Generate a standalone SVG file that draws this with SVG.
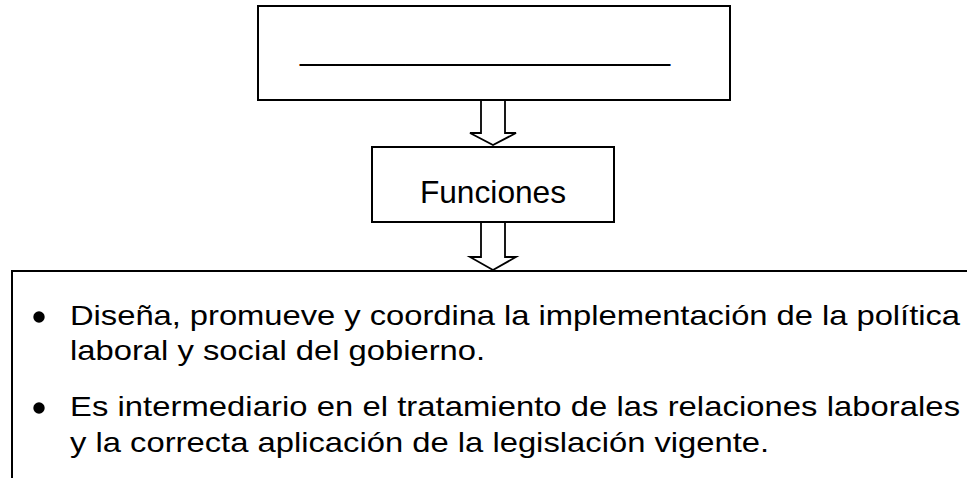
<svg xmlns="http://www.w3.org/2000/svg" width="967" height="478" viewBox="0 0 967 478">
<style>
.box{fill:#fff;stroke:#000;stroke-width:2}
.arr{fill:#fff;stroke:#000;stroke-width:1.8;stroke-linejoin:miter}
.t{font-family:"Liberation Sans",Arial,sans-serif;fill:#000}
.big{font-size:31.7px}
.b{font-size:28px}
</style>
<rect width="967" height="478" fill="#fff"/>
<g id="node-top">
<rect class="box" x="258" y="6" width="472" height="94"/>
<text class="t big" x="485" y="60" text-anchor="middle">_____________________</text>
</g>
<g id="node-funciones">
<rect class="box" x="372" y="147" width="242" height="75"/>
<text class="t big" x="493" y="203" text-anchor="middle">Funciones</text>
</g>
<g id="node-list">
<path class="box" d="M975,271 H12 V485" fill="none"/>
<circle cx="39" cy="317" r="5.7" fill="#000"/>
<circle cx="39" cy="408" r="5.7" fill="#000"/>
<g transform="translate(70,0) scale(1.17,1)">
<text class="t b" x="0" y="325" textLength="760.7" lengthAdjust="spacing">Diseña, promueve y coordina la implementación de la política</text>
<text class="t b" x="0" y="360">laboral y social del gobierno.</text>
<text class="t b" x="0" y="416" textLength="760.7" lengthAdjust="spacing">Es intermediario en el tratamiento de las relaciones laborales</text>
<text class="t b" x="0" y="452">y la correcta aplicación de la legislación vigente.</text>
</g>
</g>
<g id="connectors">
<polygon class="arr" points="481,100 505,100 505,133 516,133 493,145 470,133 481,133"/>
<polygon class="arr" points="481,222 505,222 505,257 516,257 493,270 470,257 481,257"/>
</g>
</svg>
